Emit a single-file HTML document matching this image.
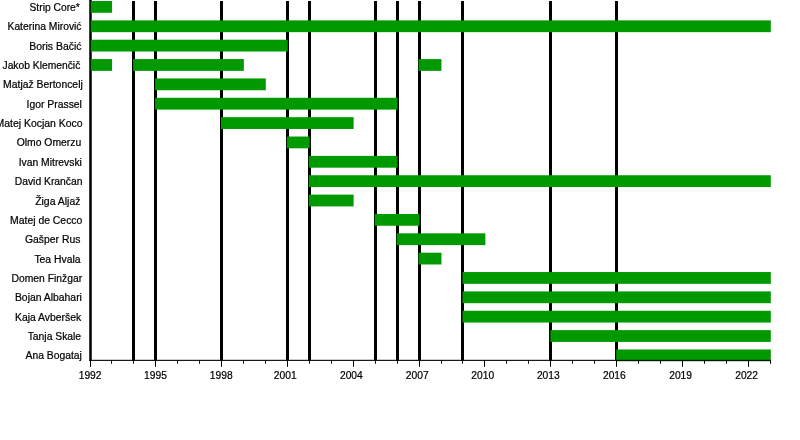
<!DOCTYPE html>
<html><head><meta charset="utf-8"><style>
html,body{margin:0;padding:0;background:#fff;}
body{width:800px;height:440px;overflow:hidden;position:relative;font-family:"Liberation Sans",sans-serif;}
svg{position:absolute;left:0;top:0;will-change:transform;}
text{font-family:"Liberation Sans",sans-serif;font-size:11px;fill:#000;stroke:#000;stroke-width:0.22px;}
</style></head><body>
<svg width="800" height="440" viewBox="0 0 800 440">
<rect width="800" height="440" fill="#fff"/>
<rect x="132" y="1" width="3" height="359.5" fill="#000"/>
<rect x="154" y="1" width="3" height="359.5" fill="#000"/>
<rect x="220" y="1" width="3" height="359.5" fill="#000"/>
<rect x="286" y="1" width="3" height="359.5" fill="#000"/>
<rect x="308" y="1" width="3" height="359.5" fill="#000"/>
<rect x="374" y="1" width="3" height="359.5" fill="#000"/>
<rect x="396" y="1" width="3" height="359.5" fill="#000"/>
<rect x="418" y="1" width="3" height="359.5" fill="#000"/>
<rect x="461" y="1" width="3" height="359.5" fill="#000"/>
<rect x="549" y="1" width="3" height="359.5" fill="#000"/>
<rect x="615" y="1" width="3" height="359.5" fill="#000"/>
<rect x="89.25" y="0" width="2.5" height="360.5" fill="#000"/>
<rect x="90.75" y="1.00" width="21.34" height="11.8" fill="#009900"/>
<rect x="90.75" y="20.36" width="680.06" height="11.8" fill="#009900"/>
<rect x="90.75" y="39.72" width="197.00" height="11.8" fill="#009900"/>
<rect x="90.75" y="59.08" width="21.34" height="11.8" fill="#009900"/>
<rect x="133.15" y="59.08" width="110.69" height="11.8" fill="#009900"/>
<rect x="418.59" y="59.08" width="22.86" height="11.8" fill="#009900"/>
<rect x="155.11" y="78.44" width="110.69" height="11.8" fill="#009900"/>
<rect x="155.11" y="97.80" width="242.43" height="11.8" fill="#009900"/>
<rect x="220.98" y="117.16" width="132.64" height="11.8" fill="#009900"/>
<rect x="286.85" y="136.52" width="22.86" height="11.8" fill="#009900"/>
<rect x="308.81" y="155.88" width="88.73" height="11.8" fill="#009900"/>
<rect x="308.81" y="175.24" width="462.00" height="11.8" fill="#009900"/>
<rect x="308.81" y="194.60" width="44.81" height="11.8" fill="#009900"/>
<rect x="374.68" y="213.96" width="44.81" height="11.8" fill="#009900"/>
<rect x="396.64" y="233.32" width="88.73" height="11.8" fill="#009900"/>
<rect x="418.59" y="252.68" width="22.86" height="11.8" fill="#009900"/>
<rect x="462.51" y="272.04" width="308.30" height="11.8" fill="#009900"/>
<rect x="462.51" y="291.40" width="308.30" height="11.8" fill="#009900"/>
<rect x="462.51" y="310.76" width="308.30" height="11.8" fill="#009900"/>
<rect x="550.34" y="330.12" width="220.47" height="11.8" fill="#009900"/>
<rect x="616.21" y="349.48" width="154.60" height="11.8" fill="#009900"/>
<rect x="89" y="359.8" width="682.00" height="1.1" fill="#000"/>
<rect x="90" y="360.5" width="1" height="6.3" fill="#000"/>
<text transform="translate(90.10,378.9) scale(0.935,1)" text-anchor="middle">1992</text>
<rect x="111" y="360.5" width="1" height="3.3" fill="#000"/>
<rect x="133" y="360.5" width="1" height="3.3" fill="#000"/>
<rect x="155" y="360.5" width="1" height="6.3" fill="#000"/>
<text transform="translate(155.50,378.9) scale(0.935,1)" text-anchor="middle">1995</text>
<rect x="177" y="360.5" width="1" height="3.3" fill="#000"/>
<rect x="199" y="360.5" width="1" height="3.3" fill="#000"/>
<rect x="221" y="360.5" width="1" height="6.3" fill="#000"/>
<text transform="translate(221.20,378.9) scale(0.935,1)" text-anchor="middle">1998</text>
<rect x="243" y="360.5" width="1" height="3.3" fill="#000"/>
<rect x="265" y="360.5" width="1" height="3.3" fill="#000"/>
<rect x="287" y="360.5" width="1" height="6.3" fill="#000"/>
<text transform="translate(285.20,378.9) scale(0.935,1)" text-anchor="middle">2001</text>
<rect x="309" y="360.5" width="1" height="3.3" fill="#000"/>
<rect x="331" y="360.5" width="1" height="3.3" fill="#000"/>
<rect x="353" y="360.5" width="1" height="6.3" fill="#000"/>
<text transform="translate(351.35,378.9) scale(0.935,1)" text-anchor="middle">2004</text>
<rect x="375" y="360.5" width="1" height="3.3" fill="#000"/>
<rect x="397" y="360.5" width="1" height="3.3" fill="#000"/>
<rect x="419" y="360.5" width="1" height="6.3" fill="#000"/>
<text transform="translate(417.20,378.9) scale(0.935,1)" text-anchor="middle">2007</text>
<rect x="441" y="360.5" width="1" height="3.3" fill="#000"/>
<rect x="462" y="360.5" width="1" height="3.3" fill="#000"/>
<rect x="484" y="360.5" width="1" height="6.3" fill="#000"/>
<text transform="translate(482.70,378.9) scale(0.935,1)" text-anchor="middle">2010</text>
<rect x="506" y="360.5" width="1" height="3.3" fill="#000"/>
<rect x="528" y="360.5" width="1" height="3.3" fill="#000"/>
<rect x="550" y="360.5" width="1" height="6.3" fill="#000"/>
<text transform="translate(548.30,378.9) scale(0.935,1)" text-anchor="middle">2013</text>
<rect x="572" y="360.5" width="1" height="3.3" fill="#000"/>
<rect x="594" y="360.5" width="1" height="3.3" fill="#000"/>
<rect x="616" y="360.5" width="1" height="6.3" fill="#000"/>
<text transform="translate(614.35,378.9) scale(0.935,1)" text-anchor="middle">2016</text>
<rect x="638" y="360.5" width="1" height="3.3" fill="#000"/>
<rect x="660" y="360.5" width="1" height="3.3" fill="#000"/>
<rect x="682" y="360.5" width="1" height="6.3" fill="#000"/>
<text transform="translate(680.60,378.9) scale(0.935,1)" text-anchor="middle">2019</text>
<rect x="704" y="360.5" width="1" height="3.3" fill="#000"/>
<rect x="726" y="360.5" width="1" height="3.3" fill="#000"/>
<rect x="748" y="360.5" width="1" height="6.3" fill="#000"/>
<text transform="translate(746.60,378.9) scale(0.935,1)" text-anchor="middle">2022</text>
<rect x="770" y="360.5" width="1" height="3.3" fill="#000"/>
<text transform="translate(79.79,10.95) scale(0.9353,1)" text-anchor="end">Strip Core*</text>
<text transform="translate(81.53,30.31) scale(0.9407,1)" text-anchor="end">Katerina Mirović</text>
<text transform="translate(81.54,49.67) scale(0.9520,1)" text-anchor="end">Boris Bačić</text>
<text transform="translate(80.28,69.03) scale(0.9369,1)" text-anchor="end">Jakob Klemenčič</text>
<text transform="translate(82.76,88.39) scale(0.9451,1)" text-anchor="end">Matjaž Bertoncelj</text>
<text transform="translate(81.91,107.75) scale(0.9435,1)" text-anchor="end">Igor Prassel</text>
<text transform="translate(82.57,127.11) scale(0.9510,1)" text-anchor="end">Matej Kocjan Koco</text>
<text transform="translate(81.26,146.47) scale(0.9445,1)" text-anchor="end">Olmo Omerzu</text>
<text transform="translate(81.91,165.83) scale(0.9414,1)" text-anchor="end">Ivan Mitrevski</text>
<text transform="translate(82.56,185.19) scale(0.9422,1)" text-anchor="end">David Krančan</text>
<text transform="translate(80.48,204.55) scale(0.9517,1)" text-anchor="end">Žiga Aljaž</text>
<text transform="translate(82.37,223.91) scale(0.9473,1)" text-anchor="end">Matej de Cecco</text>
<text transform="translate(80.38,243.27) scale(0.9451,1)" text-anchor="end">Gašper Rus</text>
<text transform="translate(80.60,262.63) scale(0.9463,1)" text-anchor="end">Tea Hvala</text>
<text transform="translate(82.09,281.99) scale(0.9403,1)" text-anchor="end">Domen Finžgar</text>
<text transform="translate(81.91,301.35) scale(0.9456,1)" text-anchor="end">Bojan Albahari</text>
<text transform="translate(81.25,320.71) scale(0.9463,1)" text-anchor="end">Kaja Avberšek</text>
<text transform="translate(81.07,340.07) scale(0.9399,1)" text-anchor="end">Tanja Skale</text>
<text transform="translate(81.91,359.43) scale(0.9420,1)" text-anchor="end">Ana Bogataj</text>
</svg></body></html>
